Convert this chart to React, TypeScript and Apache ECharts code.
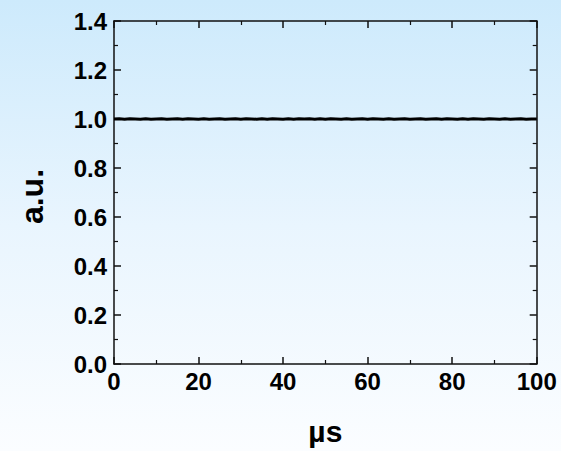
import React, { useEffect, useRef } from "react";
import * as echarts from "echarts";

const timeUs: number[] = [
  0, 1.25, 2.5, 3.75, 5, 6.25, 7.5, 8.75, 10, 11.25, 12.5, 13.75, 15, 16.25, 17.5,
  18.75, 20, 21.25, 22.5, 23.75, 25, 26.25, 27.5, 28.75, 30, 31.25, 32.5, 33.75,
  35, 36.25, 37.5, 38.75, 40, 41.25, 42.5, 43.75, 45, 46.25, 47.5, 48.75, 50,
  51.25, 52.5, 53.75, 55, 56.25, 57.5, 58.75, 60, 61.25, 62.5, 63.75, 65, 66.25,
  67.5, 68.75, 70, 71.25, 72.5, 73.75, 75, 76.25, 77.5, 78.75, 80, 81.25, 82.5,
  83.75, 85, 86.25, 87.5, 88.75, 90, 91.25, 92.5, 93.75, 95, 96.25, 97.5, 98.75,
  100,
];
const signal: number[] = [
  1.0, 1.001, 0.999, 1.001, 1.0, 0.999, 1.001, 0.999, 1.0, 1.001, 0.999, 1.0,
  1.001, 0.999, 1.001, 1.0, 0.999, 1.001, 0.999, 1.0, 1.001, 0.999, 1.0, 1.001,
  0.999, 1.001, 1.0, 0.999, 1.001, 0.999, 1.001, 1.0, 0.999, 1.001, 0.999, 1.001,
  1.0, 1.001, 0.999, 1.001, 0.999, 1.001, 1.0, 0.999, 1.001, 0.999, 1.0, 1.001,
  0.999, 1.001, 1.0, 0.999, 1.001, 0.999, 1.0, 1.001, 0.999, 1.0, 1.001, 0.999,
  1.0, 1.001, 0.999, 1.001, 1.0, 0.999, 1.001, 0.999, 1.001, 1.0, 0.999, 1.001,
  1.0, 0.999, 1.001, 0.999, 1.0, 1.001, 0.999, 1.0, 1.0,
];
const xTicks = { min: 0, max: 100, interval: 20 };
const yTicks = { min: 0, max: 1.4, interval: 0.2 };

export default function App() {
  const ref = useRef<HTMLDivElement>(null);
  useEffect(() => {
    if (!ref.current) return;
    const chart = echarts.init(ref.current, null, { renderer: "svg" });
    const font = "'Liberation Sans', Arial, sans-serif";
    const axisLine = { show: true, onZero: false, lineStyle: { color: "#111", width: 1.5 } };
    const tick = { show: true, inside: true, length: 7, lineStyle: { color: "#111", width: 1.5 } };
    const minor = { show: true, splitNumber: 2, length: 4, lineStyle: { color: "#111", width: 1.2 } };
    const label = { fontSize: 24, fontWeight: "bold" as const, color: "#000", fontFamily: font };
    const data = timeUs.map((t, i) => [t, signal[i]]);
    chart.setOption({
      animation: false,
      backgroundColor: new echarts.graphic.LinearGradient(0, 0, 0, 1, [
        { offset: 0, color: "#cdeafc" },
        { offset: 0.5, color: "#e9f5fe" },
        { offset: 1, color: "#fbfdff" },
      ]),
      grid: { left: 114, right: 24.3, top: 21, bottom: 85 },
      xAxis: [
        {
          type: "value",
          position: "bottom",
          ...xTicks,
          axisLine,
          axisTick: tick,
          minorTick: minor,
          splitLine: { show: false },
          axisLabel: { ...label, margin: 5 },
          name: "µs",
          nameLocation: "middle",
          nameGap: 52,
          nameTextStyle: { fontSize: 30, fontWeight: "bold", color: "#000", fontFamily: font },
        },
        {
          type: "value",
          position: "top",
          ...xTicks,
          axisLine,
          axisTick: tick,
          minorTick: minor,
          splitLine: { show: false },
          axisLabel: { show: false },
        },
      ],
      yAxis: [
        {
          type: "value",
          position: "left",
          ...yTicks,
          axisLine,
          axisTick: tick,
          minorTick: minor,
          splitLine: { show: false },
          axisLabel: { ...label, margin: 7, formatter: (v: number) => v.toFixed(1) },
          name: "a.u.",
          nameLocation: "middle",
          nameRotate: 90,
          nameGap: 66,
          nameTextStyle: {
            fontSize: 32,
            fontWeight: "bold",
            color: "#000",
            fontFamily: font,
            padding: [0, 8, 0, 0],
          },
        },
        {
          type: "value",
          position: "right",
          ...yTicks,
          axisLine,
          axisTick: tick,
          minorTick: minor,
          splitLine: { show: false },
          axisLabel: { show: false },
        },
      ],
      series: [
        {
          type: "line",
          data,
          showSymbol: false,
          lineStyle: { color: "#000", width: 3 },
          xAxisIndex: 0,
          yAxisIndex: 0,
        },
      ],
    });
    return () => chart.dispose();
  }, []);
  return (
    <div
      ref={ref}
      style={{ position: "fixed", left: 0, top: 0, width: 561, height: 451 }}
    />
  );
}
